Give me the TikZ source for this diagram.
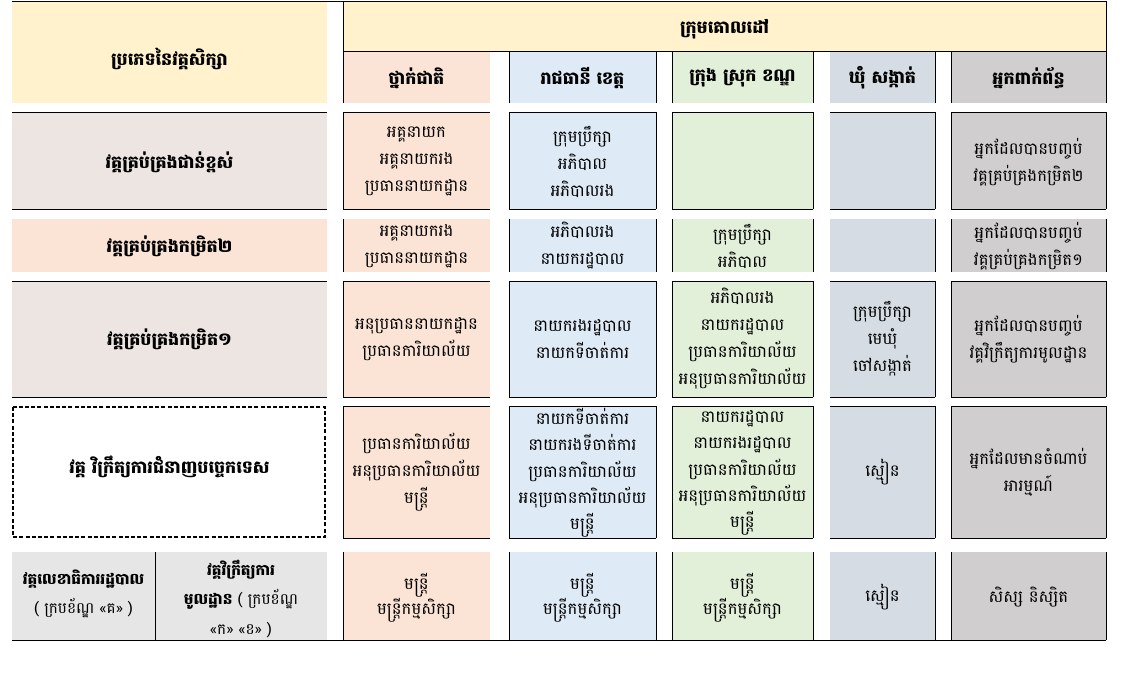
\documentclass[tikz,border=0pt]{standalone}
\usepackage{fontspec}
\newfontfamily\kh[Script=Khmer]{Battambang}
\newcommand\khtight{\lineskiplimit-100pt\relax}
\definecolor{hdrY}{HTML}{FFF2CC}
\definecolor{peach}{HTML}{FBE4D5}
\definecolor{lblue}{HTML}{DEEAF6}
\definecolor{lgreen}{HTML}{E2EFD9}
\definecolor{slate}{HTML}{D6DCE4}
\definecolor{dgray}{HTML}{D0CECE}
\definecolor{rose}{HTML}{EDE5E2}
\definecolor{lgray}{HTML}{E7E6E6}
\tikzset{
  grid/.style={line width=0.9pt, black},
  body/.style={align=center, inner sep=0pt, font=\kh\fontsize{16.5}{27}\selectfont\khtight},
  bodyfive/.style={align=center, inner sep=0pt, font=\kh\fontsize{16.5}{26.3}\selectfont\khtight},
  bodysm/.style={align=center, inner sep=0pt, font=\kh\fontsize{16.5}{25}\selectfont\khtight},
  head/.style={align=center, inner sep=0pt, font=\kh\bfseries\fontsize{17.5}{27}\selectfont\khtight},
  small/.style={align=center, inner sep=0pt, font=\kh\fontsize{15.3}{29.5}\selectfont\khtight},
  dashbox/.style={line width=1.3pt, dash pattern=on 4pt off 2.2pt}
}
\begin{document}
\begin{tikzpicture}[x=1pt,y=-1pt]
\useasboundingbox (0,0) rectangle (1123,673);
% ---------------- fills ----------------
\fill[hdrY] (12,1) rectangle (327,103);
\fill[hdrY] (343,1) rectangle (1106,51);
\foreach \ya/\yb in {51/103,112/209,219/272,281/397,406/538,552/640}{
  \fill[peach]  (343,\ya) rectangle (490,\yb);
  \fill[lblue]  (509,\ya) rectangle (656,\yb);
  \fill[lgreen] (672,\ya) rectangle (813,\yb);
  \fill[slate]  (830,\ya) rectangle (935,\yb);
  \fill[dgray]  (951,\ya) rectangle (1106,\yb);
}
\fill[rose]  (12,112) rectangle (327,209);
\fill[peach] (12,219) rectangle (327,272);
\fill[rose]  (12,281) rectangle (327,397);
\fill[lgray] (12,552) rectangle (327,640);
% ---------------- lines ----------------
\draw[grid] (12,1) -- (1106,1);
\draw[grid] (343,51) -- (1106,51);
\draw[grid] (343,1) -- (343,51);
\draw[grid] (1106,1) -- (1106,51);
\foreach \ya/\yb in {51/103,112/209,219/272,281/397,406/538,552/640}{
  \foreach \xx in {343,509,656,672,813,935,951,1106}{
    \draw[grid] (\xx,\ya) -- (\xx,\yb);
  }
}
\foreach \ya/\yb in {112/209,281/397}{
  \draw[grid] (12,\ya) -- (327,\ya) (12,\yb) -- (327,\yb);
}
\foreach \ya/\yb in {112/209,281/397,406/538}{
  \foreach \xa/\xb in {343/490,509/656,672/813,830/935,951/1106}{
    \draw[grid] (\xa,\ya) -- (\xb,\ya) (\xa,\yb) -- (\xb,\yb);
  }
}
\draw[grid] (12,640) -- (1106,640);
\draw[grid] (155,552) -- (155,640);
\draw[dashbox] (13,407) rectangle (325,537);
% ---------------- header text ----------------
\node[head] (hL) at (169.5,59) {ប្រភេទនៃវគ្គសិក្សា};
\node[head] (hT) at (724.5,29) {ក្រុមគោលដៅ};
\node[head] (hA) at (416.5,78) {ថ្នាក់ជាតិ};
\node[head] (hB) at (582.5,78) {រាជធានី ខេត្ត};
\node[head] (hC) at (742.5,78) {ក្រុង ស្រុក ខណ្ឌ};
\node[head] (hD) at (882.5,78) {ឃុំ សង្កាត់};
\node[head] (hE) at (1028.5,78) {អ្នកពាក់ព័ន្ធ};
% ---------------- row 1 ----------------
\node[head] (l1) at (169.5,162) {វគ្គគ្រប់គ្រងជាន់ខ្ពស់};
\node[body] (a1) at (416.5,162) {អគ្គនាយក\\អគ្គនាយករង\\ប្រធាននាយកដ្ឋាន};
\node[body] (b1) at (582.5,162) {ក្រុមប្រឹក្សា\\អភិបាល\\អភិបាលរង};
\node[body] (e1) at (1028.5,162) {អ្នកដែលបានបញ្ចប់\\វគ្គគ្រប់គ្រងកម្រិត២};
% ---------------- row 2 ----------------
\node[head] (l2) at (169.5,246) {វគ្គគ្រប់គ្រងកម្រិត២};
\node[body] (a2) at (416.5,246) {អគ្គនាយករង\\ប្រធាននាយកដ្ឋាន};
\node[body] (b2) at (582.5,246) {អភិបាលរង\\នាយករដ្ឋបាល};
\node[body] (c2) at (742.5,246) {ក្រុមប្រឹក្សា\\អភិបាល};
\node[body] (e2) at (1028.5,246) {អ្នកដែលបានបញ្ចប់\\វគ្គគ្រប់គ្រងកម្រិត១};
% ---------------- row 3 ----------------
\node[head] (l3) at (169.5,339) {វគ្គគ្រប់គ្រងកម្រិត១};
\node[body] (a3) at (416.5,339) {អនុប្រធាននាយកដ្ឋាន\\ប្រធានការិយាល័យ};
\node[body] (b3) at (582.5,339) {នាយករងរដ្ឋបាល\\នាយកទីចាត់ការ};
\node[body] (c3) at (742.5,339) {អភិបាលរង\\នាយករដ្ឋបាល\\ប្រធានការិយាល័យ\\អនុប្រធានការិយាល័យ};
\node[body] (d3) at (882.5,339) {ក្រុមប្រឹក្សា\\មេឃុំ\\ចៅសង្កាត់};
\node[body] (e3) at (1028.5,339) {អ្នកដែលបានបញ្ចប់\\វគ្គវិក្រឹត្យការមូលដ្ឋាន};
% ---------------- row 4 ----------------
\node[head] (l4) at (169.5,467) {វគ្គ វិក្រឹត្យការជំនាញបច្ចេកទេស};
\node[body] (a4) at (416.5,472) {ប្រធានការិយាល័យ\\អនុប្រធានការិយាល័យ\\មន្ត្រី};
\node[bodyfive] (b4) at (582.5,473) {នាយកទីចាត់ការ\\នាយករងទីចាត់ការ\\ប្រធានការិយាល័យ\\អនុប្រធានការិយាល័យ\\មន្ត្រី};
\node[bodyfive] (c4) at (742.5,473) {នាយករដ្ឋបាល\\នាយករងរដ្ឋបាល\\ប្រធានការិយាល័យ\\អនុប្រធានការិយាល័យ\\មន្ត្រី};
\node[body] (d4) at (882.5,472) {ស្មៀន};
\node[body] (e4) at (1028.5,472) {អ្នកដែលមានចំណាប់\\អារម្មណ៍};
% ---------------- row 5 ----------------
\node[small] (l5a) at (83.5,594) {{\bfseries វគ្គលេខាធិការរដ្ឋបាល}\\( ក្របខ័ណ្ឌ «គ» )};
\node[small] (l5b) at (241,599) {{\bfseries វគ្គវិក្រឹត្យការ}\\{\bfseries មូលដ្ឋាន} ( ក្របខ័ណ្ឌ\\«ក» «ខ» )};
\node[bodysm] (a5) at (416.5,598) {មន្ត្រី\\មន្ត្រីកម្មសិក្សា};
\node[bodysm] (b5) at (582.5,598) {មន្ត្រី\\មន្ត្រីកម្មសិក្សា};
\node[bodysm] (c5) at (742.5,598) {មន្ត្រី\\មន្ត្រីកម្មសិក្សា};
\node[body] (d5) at (882.5,597) {ស្មៀន};
\node[body] (e5) at (1028.5,597) {សិស្ស និស្សិត};
\end{tikzpicture}
\end{document}
